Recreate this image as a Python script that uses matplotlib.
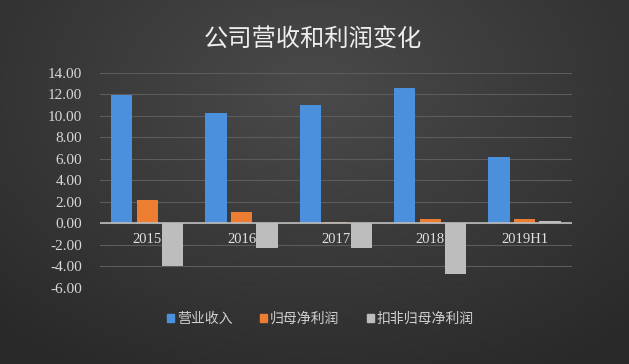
import numpy as np
import matplotlib.pyplot as plt
from matplotlib.patches import Patch

plt.rcParams['font.family'] = ['Noto Sans CJK SC', 'DejaVu Sans']

# data
years = ['2015', '2016', '2017', '2018', '2019H1']
revenue = [11.95, 10.25, 11.0, 12.6, 6.15]
net_profit = [2.15, 1.1, 0.12, 0.4, 0.4]
net_profit_deducted = [-4.0, -2.3, -2.25, -4.7, 0.2]
series_names = ['营业收入', '归母净利润', '扣非归母净利润']
colors = ['#4a90dc', '#ed7d31', '#bdbdbd']

fig = plt.figure(figsize=(6.29, 3.64), dpi=100)

# dark radial background
bg = fig.add_axes([0, 0, 1, 1], zorder=-10)
yy, xx = np.mgrid[0:1:200j, 0:1:350j]
r = np.sqrt(((xx - 0.5) / 0.75) ** 2 + ((yy - 0.25) / 0.9) ** 2)
shade = np.clip(0.29 - 0.13 * r, 0.16, 0.29)
img = np.dstack([shade, shade, shade * 1.02])
bg.imshow(np.clip(img, 0, 1), aspect='auto', extent=[0, 1, 0, 1], origin='upper')
bg.axis('off')

ax = fig.add_axes([0.159, 0.209, 0.75, 0.591])
ax.set_facecolor('none')

x = np.arange(len(years))
w = 0.225
step = 0.27
for i, (vals, c) in enumerate(zip([revenue, net_profit, net_profit_deducted], colors)):
    ax.bar(x + (i - 1) * step, vals, width=w, color=c, zorder=3)

ax.set_xlim(-0.5, len(years) - 0.5)
ax.set_ylim(-6, 14)
ax.set_yticks(np.arange(-6, 15, 2))
ax.set_yticklabels(['%.2f' % v for v in np.arange(-6, 15, 2)],
                   family='Liberation Serif', fontsize=11, color='#d8d8d8')
ax.tick_params(axis='y', length=0, pad=13)
ax.grid(axis='y', color='#5c5c5c', linewidth=0.8, zorder=0)
ax.axhline(0, color='#bdbdbd', linewidth=1.2, zorder=4)
for s in ax.spines.values():
    s.set_visible(False)
ax.set_xticks([])
for xi, lab in zip(x, years):
    ax.text(xi, -0.85, lab, ha='center', va='top', family='Liberation Serif',
            fontsize=10.5, color='#e0e0e0', zorder=5)

fig.text(0.497, 0.893, '公司营收和利润变化', ha='center', va='center',
         fontsize=17.5, color='#eeeeee')

handles = [Patch(color=c, label=n) for c, n in zip(colors, series_names)]
fig.legend(handles=handles, loc='center', bbox_to_anchor=(0.51, 0.125), ncol=3,
           frameon=False, fontsize=10, labelcolor='#d0d0d0', handlelength=0.5,
           handleheight=0.5, handletextpad=0.2, columnspacing=2.0)

fig.savefig('out.png', dpi=100)
